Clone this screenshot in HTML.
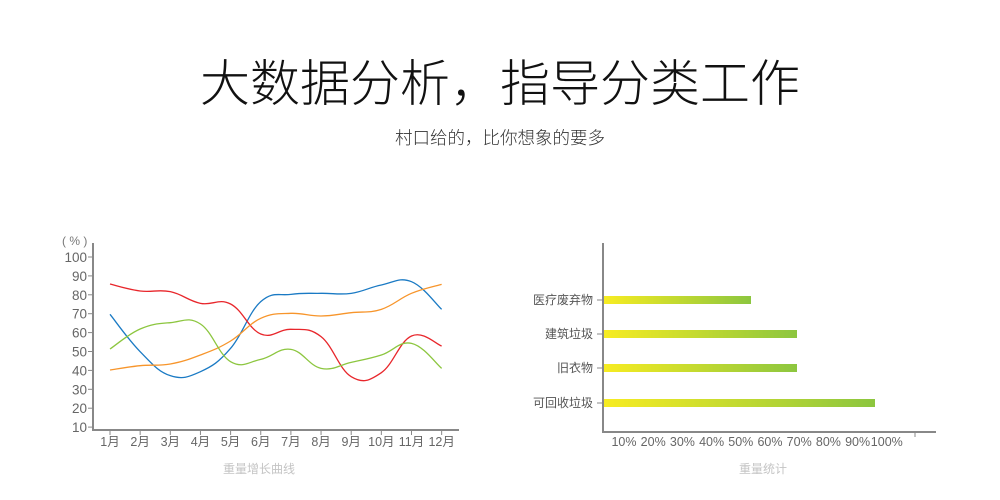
<!DOCTYPE html>
<html><head><meta charset="utf-8">
<style>
html,body{margin:0;padding:0;background:#fff;width:1000px;height:500px;overflow:hidden}
svg{display:block}
text{font-family:"Liberation Sans","Noto Sans CJK SC",sans-serif}
</style></head>
<body>
<svg id="s" width="1000" height="500" viewBox="0 0 1000 500" xmlns="http://www.w3.org/2000/svg">
<defs>
<linearGradient id="g" x1="0" x2="1" y1="0" y2="0">
<stop offset="0" stop-color="#f7ec22"/><stop offset="1" stop-color="#8cc63f"/>
</linearGradient>
</defs>
<text x="500" y="101" font-size="50" font-weight="300" text-anchor="middle" fill="#111">大数据分析，指导分类工作</text>
<text x="500" y="144" font-size="17.5" font-weight="300" text-anchor="middle" fill="#333">村口给的，比你想象的要多</text>

<g fill="#777" font-size="12">
<text x="62" y="245">( % )</text>
</g>
<line x1="93" y1="243" x2="93" y2="430" stroke="#888" stroke-width="2"/>
<line x1="92" y1="430" x2="459" y2="430" stroke="#888" stroke-width="2"/>
<g id="yt" fill="#666" font-size="13.5" text-anchor="end"></g>
<g id="xt" fill="#666" font-size="12.5" text-anchor="middle"></g>
<g id="lines" fill="none" stroke-width="1.3"></g>
<text x="259" y="473" font-size="12" text-anchor="middle" fill="#c4c4c4">重量增长曲线</text>

<line x1="603" y1="243" x2="603" y2="433" stroke="#888" stroke-width="2"/>
<line x1="602" y1="432" x2="936" y2="432" stroke="#888" stroke-width="2"/>
<line x1="915" y1="432" x2="915" y2="437" stroke="#888" stroke-width="1"/>
<g fill="url(#g)">
<rect x="604" y="296" width="147" height="8"/>
<rect x="604" y="330" width="193" height="8"/>
<rect x="604" y="364" width="193" height="8"/>
<rect x="604" y="399" width="271" height="8"/>
</g>
<g stroke="#888" stroke-width="1">
<line x1="597" y1="300" x2="603" y2="300"/><line x1="597" y1="334" x2="603" y2="334"/>
<line x1="597" y1="368" x2="603" y2="368"/><line x1="597" y1="403" x2="603" y2="403"/>
</g>
<g fill="#555" font-size="12" text-anchor="end">
<text x="593" y="304">医疗废弃物</text>
<text x="593" y="338">建筑垃圾</text>
<text x="593" y="372">旧衣物</text>
<text x="593" y="407">可回收垃圾</text>
</g>
<g id="rx" fill="#666" font-size="12.5" text-anchor="middle"></g>
<text x="763" y="473" font-size="12" text-anchor="middle" fill="#c4c4c4">重量统计</text>
</svg>
<script>
const NS="http://www.w3.org/2000/svg";
function el(p,t,a,txt){const e=document.createElementNS(NS,t);for(const k in a)e.setAttribute(k,a[k]);if(txt)e.textContent=txt;document.getElementById(p).appendChild(e);}
for(let i=0;i<10;i++){const v=100-i*10,y=257+i*18.9;el("yt","text",{x:87,y:y+5},String(v));el("yt","line",{x1:88,y1:y,x2:93,y2:y,stroke:"#888"});}
const mx=i=>110+i*30.15;
for(let i=0;i<12;i++){el("xt","text",{x:mx(i),y:446},(i+1)+"月");el("xt","line",{x1:mx(i),y1:430,x2:mx(i),y2:435,stroke:"#888"});}
for(let i=0;i<10;i++){el("rx","text",{x:624+i*29.2,y:446},((i+1)*10)+"%");}
const zy={
"#1a7ac4":[253,365,437,425,355,215,193,190,190,165,155,238],
"#e8262b":[162,183,185,220,222,312,298,320,440,428,318,348],
"#f7952b":[420,407,402,375,333,265,250,258,248,238,190,163],
"#8cc63f":[357,297,278,282,395,388,358,415,397,375,340,415]};
for(const c in zy){const p=zy[c].map((v,i)=>[mx(i),230+v/3]);let d="M"+p[0][0]+","+p[0][1];
for(let i=0;i<p.length-1;i++){const p0=p[Math.max(0,i-1)],p1=p[i],p2=p[i+1],p3=p[Math.min(p.length-1,i+2)];
const t=0.2;d+=` C${p1[0]+(p2[0]-p0[0])*t},${p1[1]+(p2[1]-p0[1])*t} ${p2[0]-(p3[0]-p1[0])*t},${p2[1]-(p3[1]-p1[1])*t} ${p2[0]},${p2[1]}`;}
el("lines","path",{d:d,stroke:c});}
</script>
</body></html>
